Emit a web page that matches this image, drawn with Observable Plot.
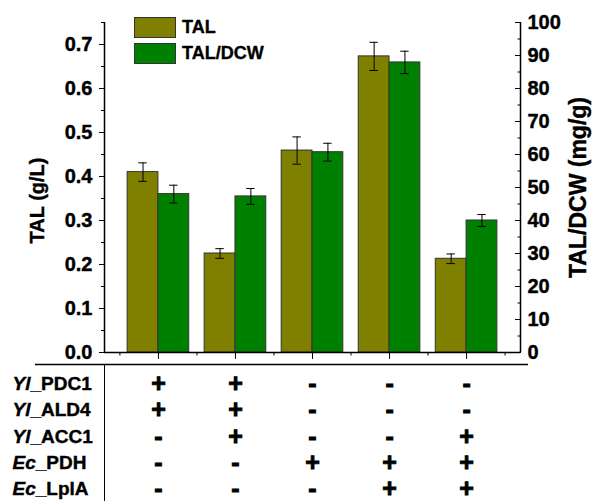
<!DOCTYPE html>
<html><head><meta charset="utf-8">
<script src="https://cdn.jsdelivr.net/npm/d3@7"></script>
<script src="https://cdn.jsdelivr.net/npm/@observablehq/plot@0.6"></script>
<style>
body{margin:0;background:#fff;}
#wrap{position:relative;width:594px;height:501px;font-family:"Liberation Sans",Arial,sans-serif;}
#wrap svg{display:block;}
#wrap svg text{font-weight:bold;stroke:#000;stroke-width:0.4px;}
#wrap svg g.sym text{stroke-width:0.9px;}
#legend{position:absolute;left:134px;top:17px;font-weight:bold;font-size:18px;color:#000;-webkit-text-stroke:0.35px #000;}
.item{position:relative;height:26px;}
.sw{position:absolute;left:0;top:0;width:42px;height:21px;border:1px solid #333;box-sizing:border-box;}
.lb{position:absolute;left:48px;top:0;line-height:21px;white-space:nowrap;}
</style></head><body><div id="wrap"><div id="charts"></div><div id="legend"></div></div>
<script>
// ---- data ----
const groups = [1, 2, 3, 4, 5];
const talValues = [0.410, 0.225, 0.459, 0.673, 0.213];
const talErrors = [0.021, 0.011, 0.031, 0.032, 0.011];
const dcwValues = [48.0, 47.3, 60.7, 87.9, 40.0];
const dcwErrors = [2.7, 2.4, 2.7, 3.4, 1.8];
const seriesNames = ["TAL", "TAL/DCW"];
const seriesColors = ["#808000", "#008000"];
const leftTicks = [0, 0.1, 0.2, 0.3, 0.4, 0.5, 0.6, 0.7];
const leftMinorTicks = [0.05, 0.15, 0.25, 0.35, 0.45, 0.55, 0.65, 0.75];
const rightTicks = [0, 10, 20, 30, 40, 50, 60, 70, 80, 90, 100];
const rightMinorTicks = [5, 15, 25, 35, 45, 55, 65, 75, 85, 95];
const xMinorTicks = [0.5, 1.5, 2.5, 3.5, 4.5, 5.5];
const leftTitle = "TAL (g/L)";
const rightTitle = "TAL/DCW (mg/g)";
const rowLabels = ["Yl_PDC1", "Yl_ALD4", "Yl_ACC1", "Ec_PDH", "Ec_LplA"];
const rowPDC1 = ["+", "+", "-", "-", "-"];
const rowALD4 = ["+", "+", "-", "-", "-"];
const rowACC1 = ["-", "+", "-", "-", "+"];
const rowPDH  = ["-", "-", "+", "+", "+"];
const rowLplA = ["-", "-", "-", "+", "+"];

// ---- layout ----
const leftMax = 0.75, rightMax = 100;
const toLeft = v => v * leftMax / rightMax;
const bw = 0.4, cap = 0.055;
const font = '"Liberation Sans", Arial, sans-serif';

const tal = groups.map((g, i) => ({g, c: g - bw / 2, v: talValues[i], e: talErrors[i]}));
const dcw = groups.map((g, i) => ({g, c: g + bw / 2, v: toLeft(dcwValues[i]), e: toLeft(dcwErrors[i])}));

function errMarks(data) {
  return [
    Plot.ruleX(data, {x: "c", y1: d => d.v - d.e, y2: d => d.v + d.e, stroke: "black", strokeWidth: 1}),
    Plot.ruleY(data, {y: d => d.v + d.e, x1: d => d.c - cap, x2: d => d.c + cap, stroke: "black", strokeWidth: 1}),
    Plot.ruleY(data, {y: d => d.v - d.e, x1: d => d.c - cap, x2: d => d.c + cap, stroke: "black", strokeWidth: 1})
  ];
}

const chart = Plot.plot({
  width: 594, height: 362,
  marginTop: 22, marginBottom: 10, marginLeft: 104, marginRight: 74,
  x: {domain: [0.3, 5.7]},
  y: {domain: [0, leftMax]},
  style: {fontFamily: font, fontWeight: "bold", fontSize: "20px", color: "black", background: "white", overflow: "visible"},
  marks: [
    Plot.rectY(tal, {x1: d => d.g - bw, x2: "g", y1: 0, y2: "v", fill: seriesColors[0], stroke: "#333", strokeWidth: 1}),
    Plot.rectY(dcw, {x1: "g", x2: d => d.g + bw, y1: 0, y2: "v", fill: seriesColors[1], stroke: "#333", strokeWidth: 1}),
    ...errMarks(tal),
    ...errMarks(dcw),
    Plot.ruleY([0], {strokeWidth: 1.5}),
    Plot.ruleX([0.3, 5.7], {y1: 0, y2: leftMax, strokeWidth: 1.5}),
    Plot.axisY({anchor: "left", ticks: leftTicks, tickSize: 5, tickPadding: 7, tickFormat: d3.format(".1f"), label: null, fontSize: 20, fontWeight: "bold"}),
    Plot.axisY({anchor: "left", ticks: leftMinorTicks, tickSize: 3, tickFormat: () => "", label: null}),
    Plot.axisY({anchor: "right", ticks: rightTicks.map(toLeft), tickSize: 0, tickPadding: 7, tickFormat: d => String(Math.round(d * rightMax / leftMax)), label: null, fontSize: 20, fontWeight: "bold"}),
    Plot.axisY({anchor: "right", ticks: rightTicks.map(toLeft), tickSize: 6, dx: -6, tickFormat: () => "", label: null}),
    Plot.axisY({anchor: "right", ticks: rightMinorTicks.map(toLeft), tickSize: 3.5, dx: -3.5, tickFormat: () => "", label: null}),
    Plot.axisX({ticks: groups, tickSize: 7, tickFormat: () => "", label: null}),
    Plot.axisX({ticks: xMinorTicks, tickSize: 3.5, tickFormat: () => "", label: null}),
    Plot.text([leftTitle], {frameAnchor: "left", rotate: -90, textAnchor: "middle", dx: -67, dy: 13, fontSize: 20, fontWeight: "bold"}),
    Plot.text([rightTitle], {frameAnchor: "right", rotate: -90, textAnchor: "middle", dx: 58, fontSize: 23, fontWeight: "bold"})
  ]
});

// ---- table ----
const rowsSym = [rowPDC1, rowALD4, rowACC1, rowPDH, rowLplA];
const cells = [];
rowsSym.forEach((row, r) => row.forEach((s, i) => cells.push({g: groups[i], r, s})));
const tableTop = -0.73, tableBottom = 4.46;

const table = Plot.plot({
  width: 594, height: 139,
  marginTop: 2, marginBottom: 0, marginLeft: 104, marginRight: 74,
  x: {domain: [0.3, 5.7], axis: null},
  y: {domain: [tableTop, tableBottom], reverse: true, axis: null},
  style: {fontFamily: font, fontWeight: "bold", fontSize: "19px", color: "black", background: "white", overflow: "visible"},
  marks: [
    Plot.ruleY([tableTop], {insetLeft: -69, insetRight: -8, strokeWidth: 1.5}),
    Plot.ruleX([0.3], {y1: tableTop, y2: tableBottom, strokeWidth: 1}),
    Plot.text(rowLabels, {y: (d, i) => i, text: d => d, frameAnchor: "left", textAnchor: "start", dx: -92, fontSize: 19, fontWeight: "bold"}),
    Plot.text(cells, {x: "g", y: "r", text: "s", fontSize: 25, fontWeight: "bold", className: "sym"})
  ]
});

// italic organism prefixes
table.querySelectorAll("text").forEach(t => {
  const s = t.textContent, k = s.indexOf("_");
  if (k > 0) {
    t.textContent = "";
    const ts = document.createElementNS("http://www.w3.org/2000/svg", "tspan");
    ts.setAttribute("font-style", "italic");
    ts.textContent = s.slice(0, k);
    t.appendChild(ts);
    t.appendChild(document.createTextNode(s.slice(k)));
  }
});

document.getElementById("charts").append(chart, table);

// ---- legend ----
const legend = document.getElementById("legend");
seriesNames.forEach((name, i) => {
  const item = document.createElement("div");
  item.className = "item";
  const sw = document.createElement("div");
  sw.className = "sw";
  sw.style.background = seriesColors[i];
  const lb = document.createElement("div");
  lb.className = "lb";
  lb.textContent = name;
  item.append(sw, lb);
  legend.append(item);
});
</script></body></html>
